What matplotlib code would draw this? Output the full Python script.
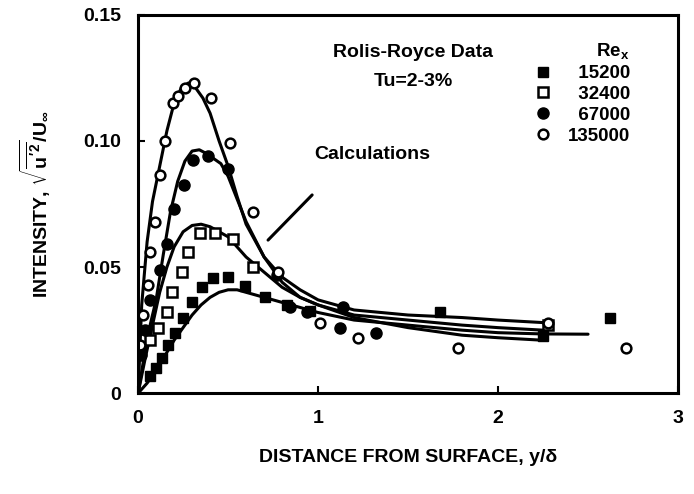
import matplotlib

matplotlib.use("Agg")

import matplotlib.pyplot as plt

re_labels = ["15200", "32400", "67000", "135000"]

x_15200 = [0.067, 0.10, 0.133, 0.167, 0.206, 0.25, 0.30, 0.356, 0.417, 0.50, 0.594,
           0.706, 0.828, 0.956, 1.68, 2.25, 2.62]
y_15200 = [0.007, 0.010, 0.014, 0.019, 0.024, 0.030, 0.036, 0.042, 0.0455, 0.046, 0.0425,
           0.038, 0.035, 0.0325, 0.032, 0.0225, 0.030]

x_32400 = [0.067, 0.111, 0.161, 0.189, 0.244, 0.278, 0.344, 0.428, 0.528, 0.639, 2.28]
y_32400 = [0.021, 0.026, 0.032, 0.040, 0.048, 0.056, 0.0635, 0.0635, 0.061, 0.050, 0.027]

x_67000 = [0.017, 0.039, 0.067, 0.122, 0.161, 0.20, 0.256, 0.306, 0.389, 0.50, 0.772,
           0.844, 0.94, 1.12, 1.14, 1.32]
y_67000 = [0.015, 0.025, 0.037, 0.049, 0.059, 0.073, 0.0825, 0.0925, 0.094, 0.089, 0.047,
           0.034, 0.032, 0.026, 0.034, 0.024]

x_135000 = [0.011, 0.028, 0.056, 0.067, 0.094, 0.122, 0.15, 0.194, 0.222, 0.261, 0.311,
            0.406, 0.511, 0.639, 0.78, 1.01, 1.22, 1.78, 2.28, 2.71]
y_135000 = [0.019, 0.031, 0.043, 0.056, 0.068, 0.0865, 0.100, 0.115, 0.118, 0.121, 0.123,
            0.117, 0.099, 0.072, 0.048, 0.028, 0.022, 0.018, 0.028, 0.018]

# calculated profiles
cx_15200 = [0, 0.05, 0.1, 0.15, 0.2, 0.25, 0.3, 0.35, 0.4, 0.45, 0.5, 0.55, 0.6, 0.7,
            0.8, 0.9, 1.0, 1.2, 1.5, 1.8, 2.0, 2.25, 2.5]
cy_15200 = [0, 0.004, 0.009, 0.015, 0.021, 0.026, 0.031, 0.035, 0.038, 0.040, 0.041,
            0.041, 0.040, 0.038, 0.036, 0.034, 0.032, 0.029, 0.027, 0.025, 0.024, 0.0235, 0.0234]

cx_32400 = [0, 0.04, 0.08, 0.12, 0.16, 0.2, 0.25, 0.3, 0.35, 0.4, 0.45, 0.5, 0.55, 0.6,
            0.7, 0.8, 0.9, 1.0, 1.2, 1.5, 1.8, 2.0, 2.25]
cy_32400 = [0, 0.014, 0.027, 0.040, 0.050, 0.058, 0.064, 0.0665, 0.067, 0.066, 0.064,
            0.062, 0.058, 0.054, 0.048, 0.042, 0.038, 0.035, 0.030, 0.026, 0.023, 0.022, 0.021]

cx_67000 = [0, 0.03, 0.06, 0.1, 0.14, 0.18, 0.22, 0.26, 0.3, 0.34, 0.38, 0.42, 0.46, 0.5,
            0.55, 0.6, 0.7, 0.8, 0.9, 1.0, 1.2, 1.5, 1.8, 2.0, 2.25]
cy_67000 = [0, 0.013, 0.025, 0.037, 0.055, 0.072, 0.084, 0.092, 0.096, 0.0965, 0.095,
            0.093, 0.091, 0.086, 0.077, 0.068, 0.054, 0.044, 0.038, 0.035, 0.031, 0.029,
            0.027, 0.026, 0.025]

cx_135000 = [0, 0.02, 0.05, 0.08, 0.12, 0.16, 0.2, 0.24, 0.28, 0.32, 0.36, 0.4, 0.45, 0.5,
             0.55, 0.6, 0.7, 0.8, 0.9, 1.0, 1.2, 1.5, 1.8, 2.0, 2.25]
cy_135000 = [0, 0.035, 0.060, 0.076, 0.090, 0.104, 0.115, 0.121, 0.123, 0.121, 0.117,
             0.111, 0.100, 0.090, 0.078, 0.067, 0.054, 0.046, 0.041, 0.037, 0.033, 0.031,
             0.030, 0.029, 0.028]

plt.rcParams["font.family"] = ["Liberation Sans", "DejaVu Sans"]
plt.rcParams["font.weight"] = "bold"
plt.rcParams["axes.labelweight"] = "bold"
plt.rcParams["mathtext.fontset"] = "custom"
plt.rcParams["mathtext.rm"] = "Liberation Sans:bold"
plt.rcParams["mathtext.it"] = "Liberation Sans:bold"
plt.rcParams["mathtext.bf"] = "Liberation Sans:bold"

fs = 14

fig = plt.figure(figsize=(6.94, 4.94), dpi=100)
ax = fig.add_axes([0.199, 0.204, 0.778, 0.766])

for cx, cy in [(cx_15200, cy_15200), (cx_32400, cy_32400),
               (cx_67000, cy_67000), (cx_135000, cy_135000)]:
    ax.plot(cx, cy, color="black", lw=2.2, solid_capstyle="round")

ms = 7
h1, = ax.plot(x_15200, y_15200, ls="none", marker="s", ms=ms, color="black")
h2, = ax.plot(x_32400, y_32400, ls="none", marker="s", ms=ms, mfc="white",
              mec="black", mew=1.8)
h3, = ax.plot(x_67000, y_67000, ls="none", marker="o", ms=ms + 1, color="black")
h4, = ax.plot(x_135000, y_135000, ls="none", marker="o", ms=ms, mfc="white",
              mec="black", mew=1.8)

# pad shorter labels with figure spaces so the numbers right-align
width = max(len(s) for s in re_labels)
labels = ["\u2007" * (width - len(s)) + s for s in re_labels]
leg = ax.legend([h1, h2, h3, h4], labels, title="Re$_{\\mathregular{x}}$",
                loc="upper right", bbox_to_anchor=(0.928, 0.955), frameon=False,
                fontsize=13.5, title_fontsize=13.5, handlelength=0.8,
                handletextpad=0.9, labelspacing=0.2, borderpad=0)
leg._legend_box.align = "right"

ax.text(1.53, 0.135, "Rolis-Royce Data", ha="center", va="center", fontsize=fs)
ax.text(1.53, 0.1234, "Tu=2-3%", ha="center", va="center", fontsize=fs)
ax.text(0.98, 0.0945, "Calculations", ha="left", va="center", fontsize=fs)
ax.annotate("", xy=(0.722, 0.0607), xytext=(0.967, 0.0786),
            arrowprops=dict(arrowstyle="-", color="black", lw=2.2,
                            shrinkA=0, shrinkB=0))

ax.set_xlim(0, 3)
ax.set_ylim(0, 0.15)
ax.set_xticks([0, 1, 2, 3])
ax.set_xticklabels(["0", "1", "2", "3"])
ax.set_yticks([0, 0.05, 0.10, 0.15])
ax.set_yticklabels(["0", "0.05", "0.10", "0.15"])
ax.tick_params(direction="in", length=5, width=1.5, labelsize=14, pad=12)
for s in ax.spines.values():
    s.set_linewidth(2.2)

ax.set_xlabel("DISTANCE FROM SURFACE, y/\u03b4", fontsize=fs, labelpad=16)
ax.set_ylabel(r"INTENSITY, $\sqrt{\overline{u'^2}}/U_\infty$", fontsize=fs, labelpad=22)

fig.savefig("out.png", dpi=100)
